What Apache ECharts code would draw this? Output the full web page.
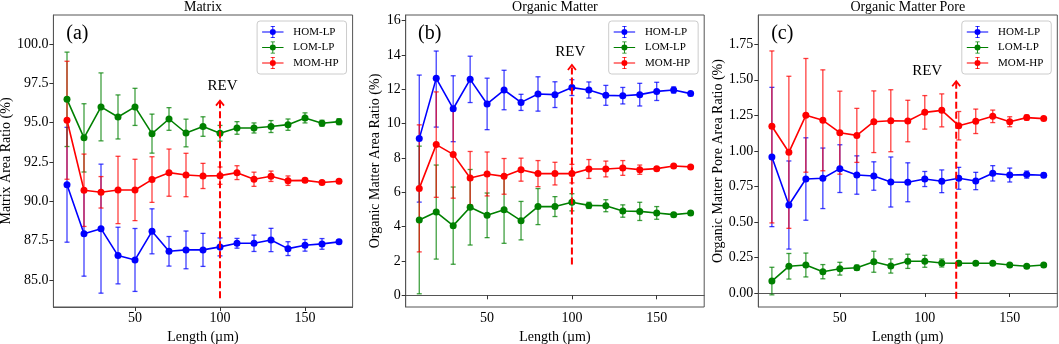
<!DOCTYPE html>
<html>
<head>
<meta charset="utf-8">
<title>REV analysis</title>
<script src="https://cdn.jsdelivr.net/npm/echarts@6.0.0/dist/echarts.min.js"></script>
<style>
  html, body { margin: 0; padding: 0; background: #fff; }
  #chart { width: 1059px; height: 344px; }
</style>
</head>
<body>
<div id="chart"></div>
<script>
// sample length (µm)
const lengths = [10, 20, 30, 40, 50, 60, 70, 80, 90, 100, 110, 120, 130, 140, 150, 160, 170];

// (a) Matrix area ratio (%)
const matrixHom = [91.05, 87.94, 88.26, 86.55, 86.27, 88.09, 86.82, 86.91, 86.91, 87.10, 87.33, 87.33, 87.54, 86.99, 87.20, 87.29, 87.42];
const matrixHomErr = [3.65, 2.7, 4.1, 1.8, 2.0, 1.43, 0.94, 1.2, 1.05, 0.57, 0.31, 0.52, 0.74, 0.44, 0.37, 0.34, 0.1];
const matrixLom = [96.48, 94.03, 96.0, 95.36, 96.0, 94.3, 95.23, 94.34, 94.75, 94.32, 94.66, 94.66, 94.75, 94.87, 95.3, 94.96, 95.06];
const matrixLomErr = [3.0, 2.17, 2.16, 1.4, 1.18, 1.24, 0.72, 0.88, 0.62, 0.5, 0.4, 0.32, 0.38, 0.36, 0.32, 0.19, 0.19];
const matrixMom = [95.15, 90.7, 90.57, 90.72, 90.72, 91.38, 91.82, 91.67, 91.61, 91.63, 91.82, 91.4, 91.59, 91.31, 91.33, 91.19, 91.27];
const matrixMomErr = [3.75, 2.3, 1.0, 2.14, 1.95, 1.45, 1.5, 1.38, 0.8, 0.55, 0.44, 0.45, 0.33, 0.3, 0.13, 0.08, 0.08];

// (b) Organic matter area ratio (%)  -- [down, up] where the bar is not symmetric
const organicHom = [9.13, 12.64, 10.87, 12.58, 11.15, 11.96, 11.24, 11.73, 11.69, 12.1, 11.96, 11.65, 11.63, 11.69, 11.88, 11.96, 11.75];
const organicHomErr = [3.7, [2.84, 1.59], 1.92, 1.35, 1.5, 1.15, 0.47, 1.0, 0.75, 0.46, 0.47, 0.58, 0.48, 0.66, 0.53, 0.18, 0.12];
const organicLom = [4.39, 4.85, 4.06, 5.13, 4.66, 4.99, 4.35, 5.17, 5.17, 5.42, 5.24, 5.22, 4.91, 4.89, 4.8, 4.7, 4.8];
const organicLomErr = [4.3, 2.74, 2.25, 2.2, 1.3, 1.96, 1.12, 1.05, 0.58, 0.5, 0.18, 0.35, 0.36, 0.53, 0.37, 0.12, 0.12];
const organicMom = [6.23, 8.78, 8.21, 6.83, 7.07, 6.93, 7.32, 7.09, 7.09, 7.09, 7.36, 7.36, 7.42, 7.32, 7.38, 7.53, 7.48];
const organicMomErr = [3.7, 3.07, 2.55, 1.55, 1.28, 1.04, 0.67, 0.76, 0.66, 0.54, 0.55, 0.46, 0.43, 0.27, 0.08, 0.08, 0.08];

// (c) Organic matter pore area ratio (%)
const poreHom = [0.957, 0.619, 0.802, 0.807, 0.875, 0.83, 0.823, 0.781, 0.779, 0.802, 0.786, 0.807, 0.788, 0.842, 0.83, 0.833, 0.828];
const poreHomErr = [0.49, 0.31, 0.29, 0.213, 0.168, 0.135, 0.1, 0.176, 0.137, 0.053, 0.08, 0.077, 0.061, 0.054, 0.049, 0.025, 0.015];
const poreLom = [0.084, 0.188, 0.197, 0.15, 0.171, 0.178, 0.22, 0.19, 0.223, 0.223, 0.211, 0.209, 0.209, 0.209, 0.197, 0.188, 0.197];
const poreLomErr = [0.097, 0.09, 0.084, 0.05, 0.045, 0.018, 0.074, 0.05, 0.05, 0.042, 0.028, 0.015, 0.008, 0.01, 0.008, 0.008, 0.008];
const poreMom = [1.173, 0.99, 1.25, 1.215, 1.128, 1.109, 1.205, 1.212, 1.21, 1.271, 1.285, 1.177, 1.208, 1.243, 1.205, 1.234, 1.227];
const poreMomErr = [[0.68, 0.53], 0.535, 0.4, 0.355, 0.292, 0.19, 0.217, 0.218, 0.146, 0.118, 0.116, 0.1, 0.086, 0.044, 0.035, 0.018, 0.01];

// tick labels
const xTicks = [50, 100, 150];
const matrixTicks = [85, 87.5, 90, 92.5, 95, 97.5, 100];
const organicTicks = [0, 2, 4, 6, 8, 10, 12, 14, 16];
const poreTicks = [0, 0.25, 0.5, 0.75, 1.0, 1.25, 1.5, 1.75];

// REV arrows (a, b, c)
const revX = [100, 100, 118.5];
const revFrom = [83.83, 1.8, -0.04];
const revTo = [96.4, 13.42, 1.49];
const revTextX = [101.5, 99, 101.4];
const revTextY = [97.3, 14.2, 1.56];

const groupNames = ["HOM-LP", "LOM-LP", "MOM-HP"];
const groupColors = ["#0000ff", "#008000", "#ff0000"];
const FONT = "Liberation Serif";

const panels = [
  {
    title: "Matrix", tag: "(a)", yName: "Matrix Area Ratio (%)",
    left: 53.4, width: 299.2, yMin: 83.28, yMax: 101.84, yTicks: matrixTicks, digits: 1, nameGap: 36,
    groups: [[matrixHom, matrixHomErr], [matrixLom, matrixLomErr], [matrixMom, matrixMomErr]]
  },
  {
    title: "Organic Matter", tag: "(b)", yName: "Organic Matter Area Ratio (%)",
    left: 405.7, width: 298.5, yMin: -0.68, yMax: 16.33, yTicks: organicTicks, digits: 0, nameGap: 20,
    groups: [[organicHom, organicHomErr], [organicLom, organicLomErr], [organicMom, organicMomErr]]
  },
  {
    title: "Organic Matter Pore", tag: "(c)", yName: "Organic Matter Pore Area Ratio (%)",
    left: 758.3, width: 299, yMin: -0.0985, yMax: 1.956, yTicks: poreTicks, digits: 2, nameGap: 31,
    groups: [[poreHom, poreHomErr], [poreLom, poreLomErr], [poreMom, poreMomErr]]
  }
];

// legend icon: line + marker + errorbar with caps
const legendIcon = "path://M0,6.3H25V7.7H0Z M12,0H13V14H12Z M10,0H15V1H10Z M10,13H15V14H10Z M9,7A3.5,3.5,0,1,1,16,7A3.5,3.5,0,1,1,9,7Z";

// 误差棒
function renderErrorBar(params, api) {
  const x = api.value(0);
  const lo = api.coord([x, api.value(1)]);
  const hi = api.coord([x, api.value(2)]);
  const stroke = echarts.color.modifyAlpha(api.visual("color"), 0.75);
  const cap = 2.5;
  const st = () => ({ stroke: stroke, lineWidth: 1.3, fill: null });
  return {
    type: "group",
    children: [
      { type: "line", shape: { x1: lo[0], y1: lo[1], x2: hi[0], y2: hi[1] }, style: st() },
      { type: "line", shape: { x1: hi[0] - cap, y1: hi[1], x2: hi[0] + cap, y2: hi[1] }, style: st() },
      { type: "line", shape: { x1: lo[0] - cap, y1: lo[1], x2: lo[0] + cap, y2: lo[1] }, style: st() }
    ]
  };
}

// REV 箭头
function renderRev(params, api) {
  const b = api.coord([api.value(0), api.value(1)]);
  const t = api.coord([api.value(0), api.value(2)]);
  const l = api.coord([api.value(3), api.value(4)]);
  return {
    type: "group",
    children: [
      { type: "line", shape: { x1: b[0], y1: b[1], x2: t[0], y2: t[1] + 1 },
        style: { stroke: "#ff0000", lineWidth: 2, lineDash: [7, 3], fill: null } },
      { type: "polyline", shape: { points: [[t[0] - 4, t[1] + 5], [t[0], t[1]], [t[0] + 4, t[1] + 5]] },
        style: { stroke: "#ff0000", lineWidth: 1.8, fill: null } },
      { type: "text", x: l[0], y: l[1],
        style: { text: "REV", fontSize: 15, fontFamily: FONT, fill: "#000", align: "center", verticalAlign: "middle" } }
    ]
  };
}

const option = {
  animation: false,
  backgroundColor: "#fff",
  textStyle: { fontFamily: FONT },
  title: [],
  grid: [],
  xAxis: [],
  yAxis: [],
  legend: [],
  graphic: [],
  series: []
};

panels.forEach((p, i) => {
  const right = p.left + p.width;
  option.grid.push({
    left: p.left, top: 15, width: p.width, height: 292,
    show: true, borderColor: "#555", borderWidth: 1, backgroundColor: "transparent",
    containLabel: false, outerBoundsMode: "none"
  });
  option.title.push({
    text: p.title, left: p.left + p.width / 2, top: 0, padding: 0, textAlign: "center",
    textStyle: { fontFamily: FONT, fontSize: 14, fontWeight: "normal", color: "#000" }
  });
  option.graphic.push({
    type: "text", x: p.left + 24, y: 34,
    style: { text: p.tag, fontSize: 20, fontFamily: FONT, fill: "#000", align: "center", verticalAlign: "middle" }
  });
  option.xAxis.push({
    gridIndex: i, type: "value", min: 2, max: 178,
    name: "Length (µm)", nameLocation: "middle", nameGap: 19,
    nameTextStyle: { fontFamily: FONT, fontSize: 14, color: "#000" },
    axisLine: { show: true, lineStyle: { color: "#555", width: 1 } },
    axisTick: { show: true, length: 4, inside: false, customValues: xTicks, lineStyle: { color: "#333" } },
    axisLabel: { customValues: xTicks, margin: 4, fontFamily: FONT, fontSize: 14, color: "#000" },
    splitLine: { show: false }
  });
  option.yAxis.push({
    gridIndex: i, type: "value", min: p.yMin, max: p.yMax,
    name: p.yName, nameLocation: "middle", nameRotate: 90, nameGap: p.nameGap,
    nameTextStyle: { fontFamily: FONT, fontSize: 14, color: "#000" },
    axisLine: { show: true, lineStyle: { color: "#555", width: 1 } },
    axisTick: { show: true, length: 4, inside: false, customValues: p.yTicks, lineStyle: { color: "#333" } },
    axisLabel: {
      customValues: p.yTicks, margin: 5, fontFamily: FONT, fontSize: 14, color: "#000",
      formatter: (v) => Number(v).toFixed(p.digits)
    },
    splitLine: { show: false }
  });
  option.legend.push({
    orient: "vertical", left: right - 4.5 - 91, top: 21,
    itemWidth: 25, itemHeight: 12, itemGap: 3.5,
    padding: [5, 8, 5, 5],
    backgroundColor: "rgba(255,255,255,0.8)", borderColor: "#cccccc", borderWidth: 1, borderRadius: 3,
    textStyle: { fontFamily: FONT, fontSize: 11, color: "#000", padding: [0, 0, 0, 3] },
    selectedMode: false,
    data: groupNames.map((n) => ({ name: n, icon: legendIcon }))
  });

  p.groups.forEach(([mean, err], j) => {
    const color = groupColors[j];
    const errData = lengths.map((x, k) => {
      const e = err[k];
      const down = Array.isArray(e) ? e[0] : e;
      const up = Array.isArray(e) ? e[1] : e;
      return [x, mean[k] - down, mean[k] + up];
    });
    option.series.push({
      type: "custom", name: groupNames[j], xAxisIndex: i, yAxisIndex: i,
      data: errData, encode: { x: 0, y: [1, 2] },
      itemStyle: { color: color },
      renderItem: renderErrorBar
    });
    option.series.push({
      type: "line", name: groupNames[j] + " mean", xAxisIndex: i, yAxisIndex: i,
      data: lengths.map((x, k) => [x, mean[k]]),
      symbol: "circle", symbolSize: 7, showSymbol: true,
      lineStyle: { width: 1.6, color: color },
      itemStyle: { color: color }
    });
  });

  option.series.push({
    type: "custom", name: "REV" + i, xAxisIndex: i, yAxisIndex: i,
    data: [[revX[i], revFrom[i], revTo[i], revTextX[i], revTextY[i]]],
    encode: { x: 0, y: [1, 2] },
    renderItem: renderRev, z: 5
  });
});

const chart = echarts.init(document.getElementById("chart"));
chart.setOption(option);
</script>
</body>
</html>
